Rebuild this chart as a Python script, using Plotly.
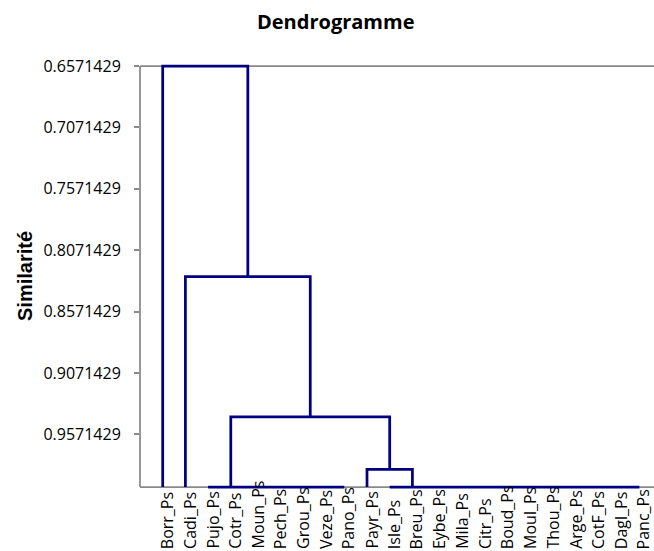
import plotly.graph_objects as go

# ---------------- data ----------------
leaves = ["Borr_Ps", "Cadi_Ps", "Pujo_Ps", "Cotr_Ps", "Moun_Ps", "Pech_Ps", "Grou_Ps",
          "Veze_Ps", "Pano_Ps", "Payr_Ps", "Isle_Ps", "Breu_Ps", "Eybe_Ps", "Mila_Ps",
          "Citr_Ps", "Boud_Ps", "Moul_Ps", "Thou_Ps", "Arge_Ps", "CotF_Ps", "Dagl_Ps",
          "Panc_Ps"]

# dendrogram links (positions in leaf units, 1 = first leaf)
link_left = [3, 11, 10, 4, 2, 1]
link_right = [9, 22, 12, 11, 7.5, 4.75]
link_sim = [1.0, 1.0, 0.9857143, 0.9428571, 0.8285714, 0.6571429]
link_left_from = [1.0, 1.0, 1.0, 1.0, 1.0, 1.0]
link_right_from = [1.0, 1.0, 1.0, 0.9857143, 0.9428571, 0.8285714]

tick_vals = [0.6571429, 0.7071429, 0.7571429, 0.8071429, 0.8571429, 0.9071429, 0.9571429]
tick_text = [f"{v:.7f}" for v in tick_vals]

# ---------------- geometry ----------------
W, H = 654, 551
ML, MR, MT, MB = 140, 0, 63, 61
PW, PH = W - ML - MR, H - MT - MB
PAD = 3  # px of padding so edge lines are not clipped

ymin, ymax = min(link_sim), max(link_sim + link_left_from + link_right_from)
k = (ymax - ymin) / (PH - 2 * PAD)
yr = [ymax + PAD * k, ymin - PAD * k]
xstep = 22.7
xr = [0, PW / xstep]


def fy(v):
    return (v - yr[0]) / (yr[1] - yr[0])


def py(p):  # pixel from top -> paper y
    return (H - MB - p) / PH


def px(p):  # pixel from left -> paper x
    return (p - ML) / PW


xs, ys = [], []
for a, b, s, fa, fb in zip(link_left, link_right, link_sim, link_left_from, link_right_from):
    xs += [a, a, b, b, None]
    ys += [fa, s, s, fb, None]

fig = go.Figure()
fig.add_trace(go.Scatter(x=xs, y=ys, mode="lines",
                         line=dict(color="#000080", width=2.75),
                         hoverinfo="skip", showlegend=False))

gray = "#898989"
shapes = [
    dict(type="line", xref="paper", yref="paper", x0=0, x1=1, y0=fy(ymin), y1=fy(ymin),
         line=dict(color=gray, width=1.75), layer="below"),
    dict(type="line", xref="paper", yref="paper", x0=0, x1=1, y0=fy(ymax), y1=fy(ymax),
         line=dict(color=gray, width=1.75), layer="below"),
    dict(type="line", xref="paper", yref="paper", x0=0, x1=0, y0=fy(ymax), y1=fy(ymin),
         line=dict(color=gray, width=1.75), layer="below"),
]

annotations = []
for i, name in enumerate(leaves):
    annotations.append(dict(x=i + 1, xref="x", y=py(550), yref="paper",
                            text=name, textangle=-90, showarrow=False,
                            xanchor="center", yanchor="bottom", xshift=4, borderpad=0,
                            font=dict(family="Open Sans", size=16, color="#000000")))
annotations.append(dict(x=px(335.5), xref="paper", y=py(22), yref="paper",
                        text="<b>Dendrogramme</b>", showarrow=False,
                        xanchor="center", yanchor="middle",
                        font=dict(family="Open Sans", size=20, color="#000000")))
annotations.append(dict(x=px(25), xref="paper", y=py(276), yref="paper",
                        text="<b>Similarité</b>", textangle=-90, showarrow=False,
                        xanchor="center", yanchor="middle",
                        font=dict(family="Liberation Sans", size=20, color="#000000")))

fig.update_layout(
    width=W, height=H,
    margin=dict(l=ML, r=MR, t=MT, b=MB, pad=0),
    paper_bgcolor="white", plot_bgcolor="white",
    shapes=shapes, annotations=annotations,
    xaxis=dict(range=xr, showgrid=False, zeroline=False, showline=False,
               showticklabels=False, ticks=""),
    yaxis=dict(range=yr, showgrid=False, zeroline=False, showline=False,
               tickvals=tick_vals, ticktext=tick_text, ticks="outside",
               ticklen=5, tickwidth=1.5, tickcolor=gray,
               ticklabelstandoff=10,
               tickfont=dict(family="Open Sans", size=16, color="#000000")),
)

fig.write_html("out.html",
               config={"displayModeBar": False},
               post_script="document.body.style.margin='0';document.body.style.overflow='hidden';")
